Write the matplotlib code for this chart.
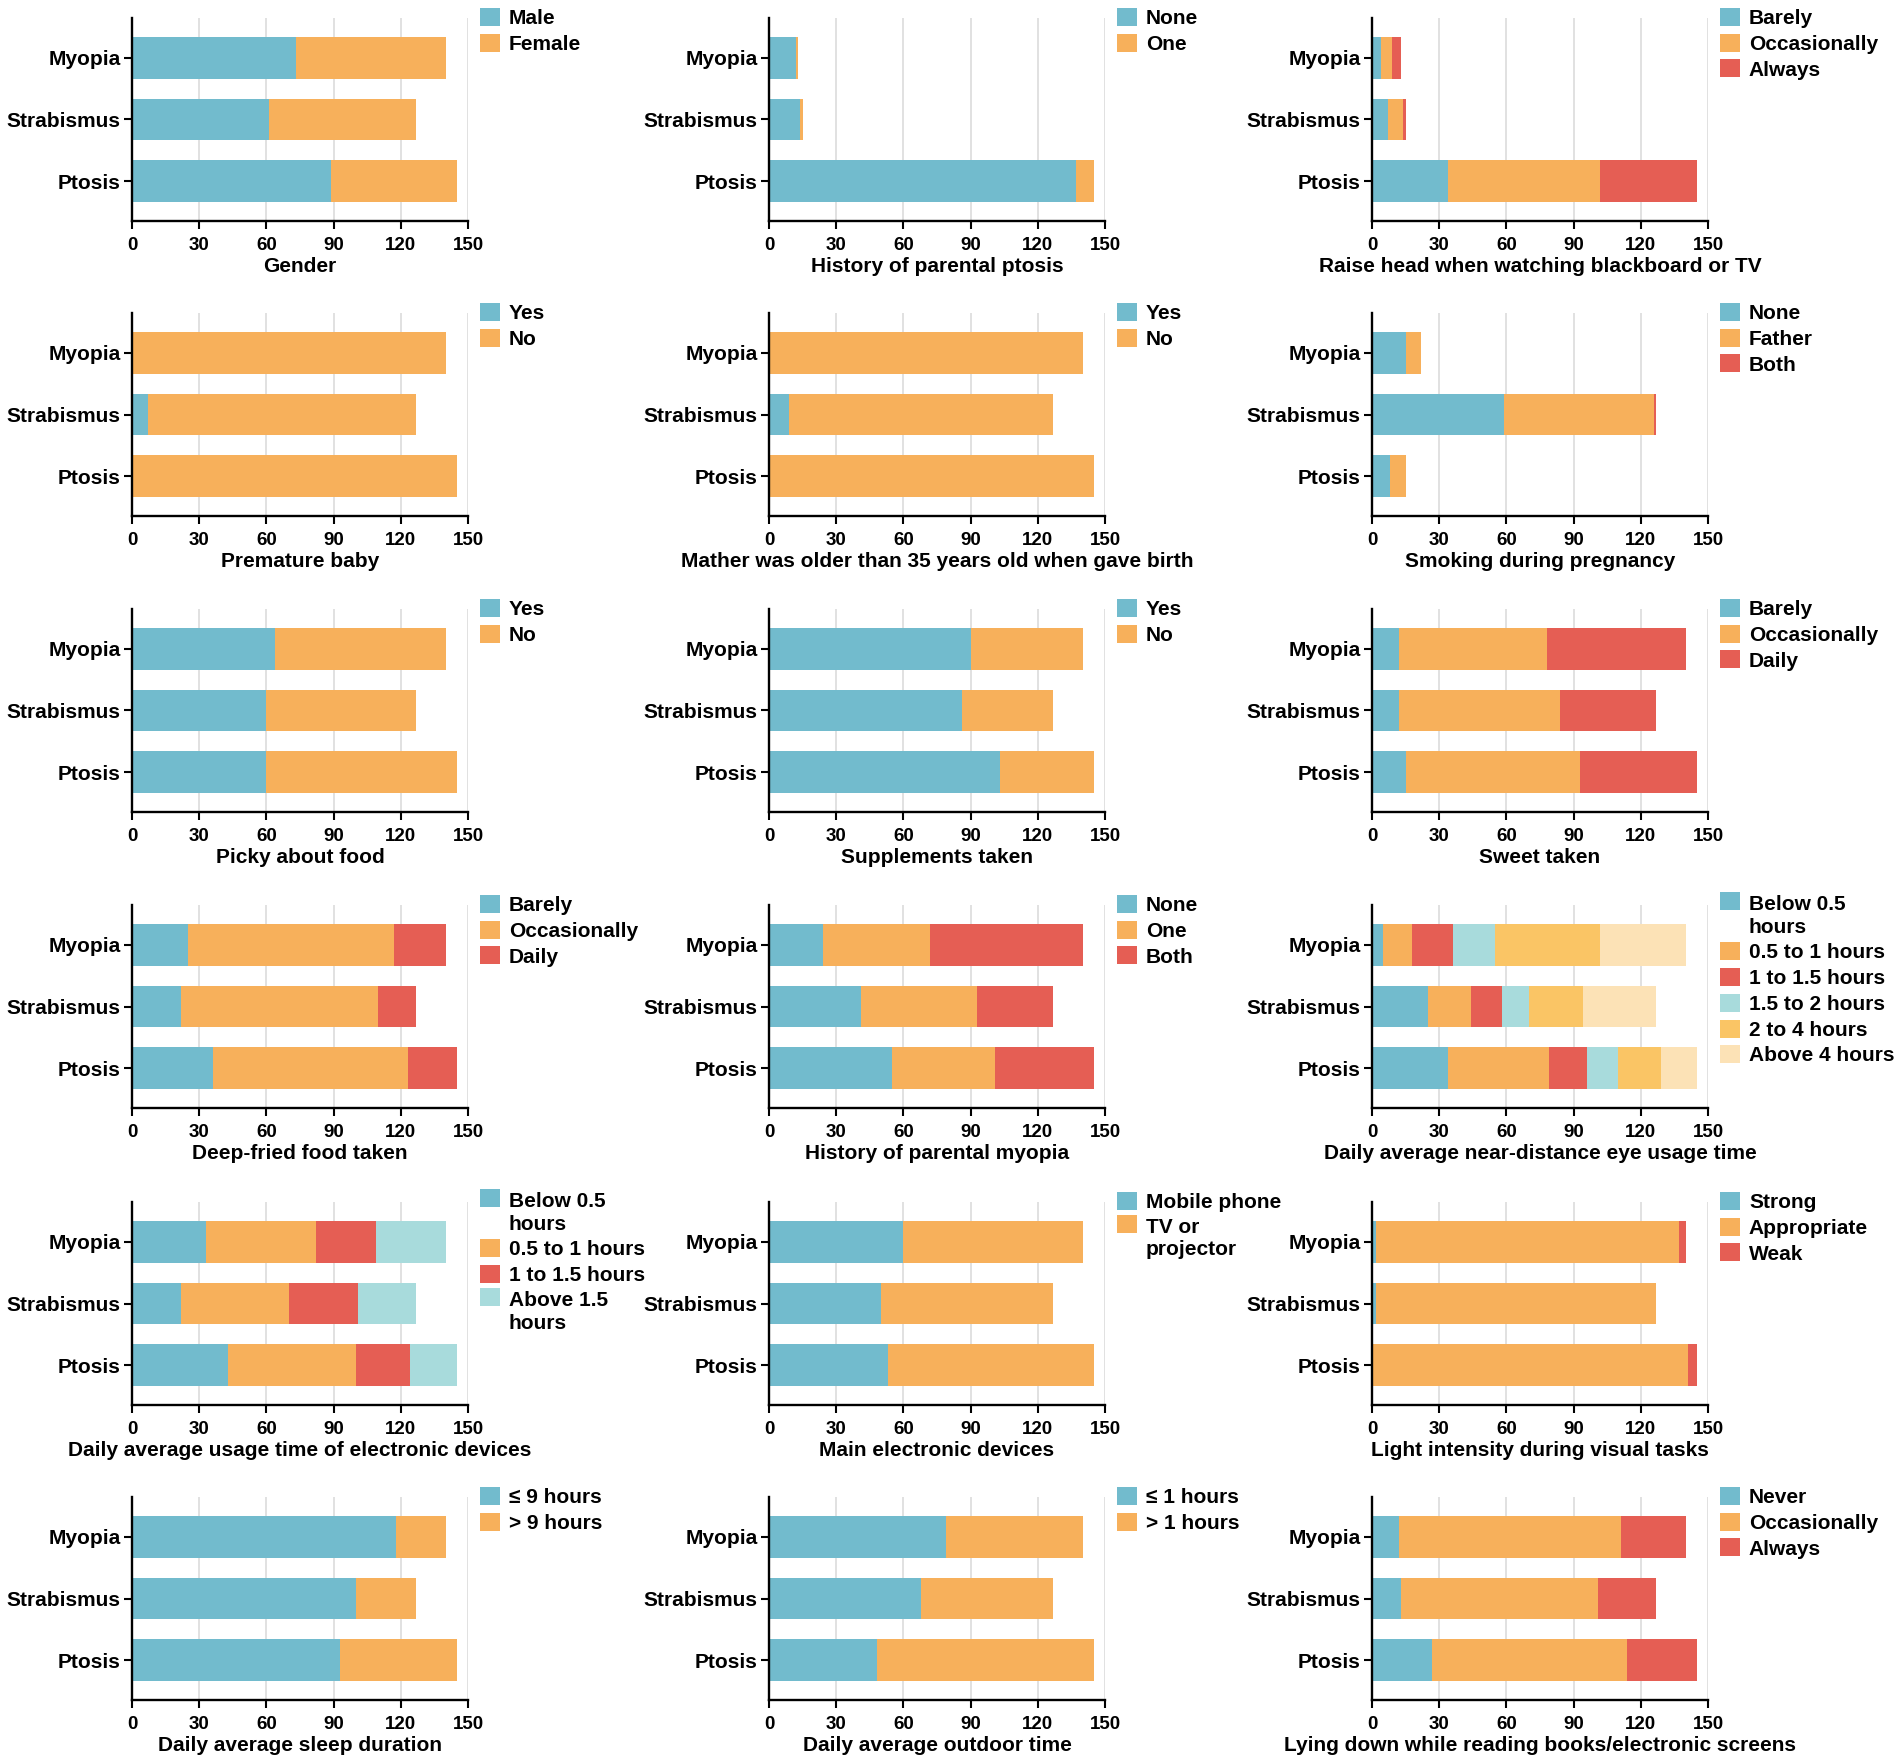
import numpy as np
import matplotlib
matplotlib.use("Agg")
import matplotlib.pyplot as plt
from matplotlib.patches import Rectangle
from matplotlib.legend_handler import HandlerPatch

plt.rcParams['font.family'] = ['Liberation Sans', 'DejaVu Sans']
plt.rcParams['font.weight'] = 'bold'
plt.rcParams['axes.labelweight'] = 'bold'

# ---------------- data ----------------
groups = ["Myopia", "Strabismus", "Ptosis"]
x_ticks = [0, 30, 60, 90, 120, 150]

TEAL = "#72BBCD"
ORANGE = "#F7B05B"
RED = "#E55E54"
LTEAL = "#A8DBDC"
GOLD = "#FAC565"
PEACH = "#FCE2B6"

gender_labels = ["Male", "Female"]
gender_vals = [[73, 67], [61, 66], [89, 56]]

ptosis_hist_labels = ["None", "One"]
ptosis_hist_vals = [[12, 1], [14, 1], [137, 8]]

raise_labels = ["Barely", "Occasionally", "Always"]
raise_vals = [[4, 5, 4], [7, 7, 1], [34, 68, 43]]

premature_labels = ["Yes", "No"]
premature_vals = [[0, 140], [7, 120], [0, 145]]

mother_labels = ["Yes", "No"]
mother_vals = [[0, 140], [9, 118], [0, 145]]

smoking_labels = ["None", "Father", "Both"]
smoking_vals = [[15, 7, 0], [59, 67, 1], [8, 7, 0]]

picky_labels = ["Yes", "No"]
picky_vals = [[64, 76], [60, 67], [60, 85]]

supp_labels = ["Yes", "No"]
supp_vals = [[90, 50], [86, 41], [103, 42]]

sweet_labels = ["Barely", "Occasionally", "Daily"]
sweet_vals = [[12, 66, 62], [12, 72, 43], [15, 78, 52]]

fried_labels = ["Barely", "Occasionally", "Daily"]
fried_vals = [[25, 92, 23], [22, 88, 17], [36, 87, 22]]

myopia_hist_labels = ["None", "One", "Both"]
myopia_hist_vals = [[24, 48, 68], [41, 52, 34], [55, 46, 44]]

near_labels = ["Below 0.5\nhours", "0.5 to 1 hours", "1 to 1.5 hours",
               "1.5 to 2 hours", "2 to 4 hours", "Above 4 hours"]
near_vals = [[5, 13, 18, 19, 47, 38], [25, 19, 14, 12, 24, 33], [34, 45, 17, 14, 19, 16]]

usage_labels = ["Below 0.5\nhours", "0.5 to 1 hours", "1 to 1.5 hours", "Above 1.5\nhours"]
usage_vals = [[33, 49, 27, 31], [22, 48, 31, 26], [43, 57, 24, 21]]

device_labels = ["Mobile phone", "TV or\nprojector"]
device_vals = [[60, 80], [50, 77], [53, 92]]

light_labels = ["Strong", "Appropriate", "Weak"]
light_vals = [[2, 135, 3], [2, 125, 0], [0, 141, 4]]

sleep_labels = ["\u2264 9 hours", "> 9 hours"]
sleep_vals = [[118, 22], [100, 27], [93, 52]]

outdoor_labels = ["\u2264 1 hours", "> 1 hours"]
outdoor_vals = [[79, 61], [68, 59], [48, 97]]

lying_labels = ["Never", "Occasionally", "Always"]
lying_vals = [[12, 99, 29], [13, 88, 26], [27, 87, 31]]

panels = [
    ("Gender", gender_labels, gender_vals, [TEAL, ORANGE]),
    ("History of parental ptosis", ptosis_hist_labels, ptosis_hist_vals, [TEAL, ORANGE]),
    ("Raise head when watching blackboard or TV", raise_labels, raise_vals, [TEAL, ORANGE, RED]),
    ("Premature baby", premature_labels, premature_vals, [TEAL, ORANGE]),
    ("Mather was older than 35 years old when gave birth", mother_labels, mother_vals, [TEAL, ORANGE]),
    ("Smoking during pregnancy", smoking_labels, smoking_vals, [TEAL, ORANGE, RED]),
    ("Picky about food", picky_labels, picky_vals, [TEAL, ORANGE]),
    ("Supplements taken", supp_labels, supp_vals, [TEAL, ORANGE]),
    ("Sweet taken", sweet_labels, sweet_vals, [TEAL, ORANGE, RED]),
    ("Deep-fried food taken", fried_labels, fried_vals, [TEAL, ORANGE, RED]),
    ("History of parental myopia", myopia_hist_labels, myopia_hist_vals, [TEAL, ORANGE, RED]),
    ("Daily average near-distance eye usage time", near_labels, near_vals,
     [TEAL, ORANGE, RED, LTEAL, GOLD, PEACH]),
    ("Daily average usage time of electronic devices", usage_labels, usage_vals,
     [TEAL, ORANGE, RED, LTEAL]),
    ("Main electronic devices", device_labels, device_vals, [TEAL, ORANGE]),
    ("Light intensity during visual tasks", light_labels, light_vals, [TEAL, ORANGE, RED]),
    ("Daily average sleep duration", sleep_labels, sleep_vals, [TEAL, ORANGE]),
    ("Daily average outdoor time", outdoor_labels, outdoor_vals, [TEAL, ORANGE]),
    ("Lying down while reading books/electronic screens", lying_labels, lying_vals,
     [TEAL, ORANGE, RED]),
]

# ---------------- layout ----------------
W, H = 1902, 1762
fig = plt.figure(figsize=(W / 100, H / 100), dpi=100)
col_left = [132, 769, 1372]
row_top = [18, 313, 609, 905, 1202, 1497]
ax_w, ax_h = 336, 203


class TopHandler(HandlerPatch):
    def __init__(self, shift=0.0, **kw):
        super().__init__(**kw)
        self.shift = shift

    def create_artists(self, legend, orig_handle, xdescent, ydescent,
                       width, height, fontsize, trans):
        p = Rectangle((-xdescent, -ydescent + self.shift), width, height)
        p.set_facecolor(orig_handle.get_facecolor())
        p.set_edgecolor('none')
        p.set_transform(trans)
        return [p]


for i, (xlabel, labels, vals, colors) in enumerate(panels):
    r, c = divmod(i, 3)
    ax = fig.add_axes([col_left[c] / W, 1 - (row_top[r] + ax_h) / H, ax_w / W, ax_h / H])
    arr = np.array(vals, dtype=float)
    ypos = np.arange(len(groups))
    left = np.zeros(len(groups))
    handles = []
    for k, lab in enumerate(labels):
        b = ax.barh(ypos, arr[:, k], left=left, height=0.67, color=colors[k],
                    edgecolor='none', label=lab, zorder=2)
        handles.append(b.patches[0])
        left += arr[:, k]
    ax.set_xlim(0, 150)
    ax.set_ylim(2.65, -0.65)
    ax.set_yticks(ypos)
    ax.set_yticklabels(groups, fontsize=15, fontweight='bold')
    ax.set_xticks(x_ticks)
    ax.set_xticklabels([str(t) for t in x_ticks], fontsize=13.5, fontweight='bold')
    ax.set_xlabel(xlabel, fontsize=15, fontweight='bold', labelpad=2)
    ax.xaxis.grid(True, color='#dcdcdc', linewidth=1.2, zorder=0)
    ax.set_axisbelow(True)
    for s in ['top', 'right']:
        ax.spines[s].set_visible(False)
    for s in ['left', 'bottom']:
        ax.spines[s].set_linewidth(1.7)
        ax.spines[s].set_color('black')
    ax.tick_params(axis='both', length=6, width=1.5, color='black')
    ax.tick_params(axis='x', pad=5.5)
    ax.tick_params(axis='y', pad=2)

    hmap = {}
    for h, lab in zip(handles, labels):
        shift = 11.0 if '\n' in lab else 0.0
        hmap[h] = TopHandler(shift=shift)
    leg = ax.legend(handles=handles, labels=labels, loc='upper left',
                    bbox_to_anchor=(1.035, 1.05), frameon=False,
                    prop={'size': 15, 'weight': 'bold'},
                    handlelength=0.95, handleheight=0.95, handletextpad=0.45,
                    labelspacing=0.27, borderaxespad=0, borderpad=0,
                    handler_map=hmap)
    for t in leg.get_texts():
        t.set_linespacing(1.25)

fig.savefig("out.png", dpi=100, facecolor='white')
